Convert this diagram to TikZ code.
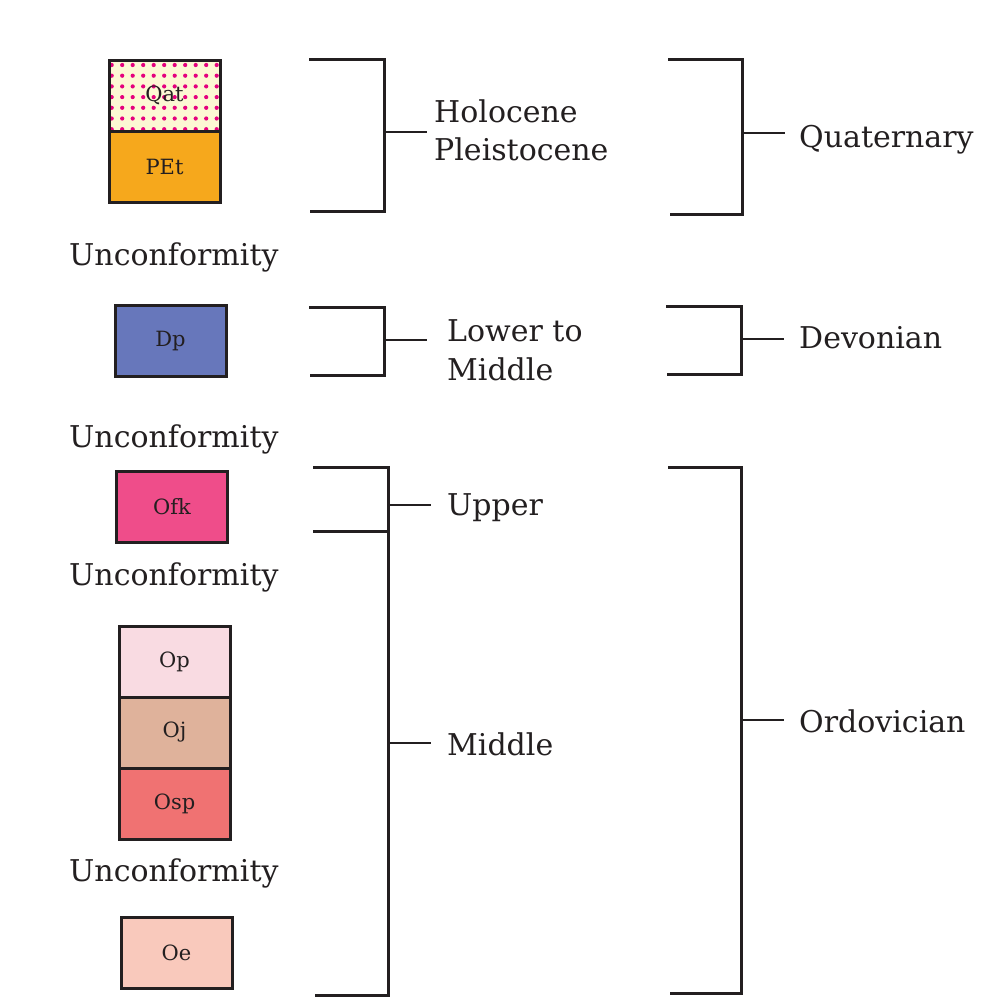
\documentclass[tikz,border=0pt]{standalone}
\usepackage{fontspec}
\setmainfont{DejaVu Serif}
\definecolor{linec}{HTML}{231F20}
\definecolor{qatfill}{HTML}{FCF8D3}
\definecolor{dotc}{HTML}{E5007D}
\definecolor{petfill}{HTML}{F6A81C}
\definecolor{dpfill}{HTML}{6777BB}
\definecolor{ofkfill}{HTML}{EF4D8A}
\definecolor{opfill}{HTML}{F9DBE2}
\definecolor{ojfill}{HTML}{DFB29B}
\definecolor{ospfill}{HTML}{F07272}
\definecolor{oefill}{HTML}{F9C9BC}
\tikzset{
  layerbox/.style={draw=linec, line width=3pt, minimum width=111pt, minimum height=71pt,
    inner sep=0pt, outer sep=0pt, text=linec, font=\fontsize{21}{25}\selectfont},
  brk/.style={draw=linec, line width=3pt},
  tick/.style={draw=linec, line width=2.6pt},
  lbl/.style={anchor=base west, inner sep=0pt, text=linec, font=\fontsize{30}{36}\selectfont}
}
\begin{document}
\begin{tikzpicture}[x=1pt,y=-1pt]
\useasboundingbox (0,0) rectangle (985,1007);
% layer boxes
\node[layerbox, fill=qatfill] (qat) at (164.5,95.5) {};
\begin{scope}
  \clip (qat.south west) rectangle (qat.north east);
  \foreach \i in {0,...,10}
    \foreach \j in {0,...,6}
      \fill[dotc] (111.7+\i*10.5, 65+\j*10.7) circle (2.1);
\end{scope}
\draw[draw=linec, line width=3pt] (qat.south west) rectangle (qat.north east);
\node[text=linec, font=\fontsize{21}{25}\selectfont, inner sep=0pt] (qatl) at (qat.center) {Qat};
\node[layerbox, fill=petfill] (pet) at (164.5,166.5) {PEt};
\node[layerbox, fill=dpfill] (dp) at (170.5,341) {Dp};
\node[layerbox, fill=ofkfill] (ofk) at (172,506.5) {Ofk};
\node[layerbox, fill=opfill] (op) at (174.5,661.5) {Op};
\node[layerbox, fill=ojfill] (oj) at (174.5,732.5) {Oj};
\node[layerbox, fill=ospfill] (osp) at (174.5,803.5) {Osp};
\node[layerbox, fill=oefill] (oe) at (176.5,952.5) {Oe};
% unconformity labels
\node[lbl] (unc1) at (69,265) {Unconformity};
\node[lbl] (unc2) at (69,447) {Unconformity};
\node[lbl] (unc3) at (69,585) {Unconformity};
\node[lbl] (unc4) at (69,881) {Unconformity};
% epoch labels
\node[lbl] (holo) at (434,122) {Holocene};
\node[lbl] (pleis) at (434,160) {Pleistocene};
\node[lbl] (lower) at (447,341) {Lower to};
\node[lbl] (midd) at (447,380) {Middle};
\node[lbl] (upper) at (447,515) {Upper};
\node[lbl] (middle) at (447,755) {Middle};
% period labels
\node[lbl] (quat) at (799,147) {Quaternary};
\node[lbl] (dev) at (799,348) {Devonian};
\node[lbl] (ordo) at (799,732) {Ordovician};
% tick end coordinates
\coordinate (t1a) at (384,132); \coordinate (t1b) at (427,132);
\coordinate (t2a) at (742,133); \coordinate (t2b) at (785,133);
\coordinate (t3a) at (384,340); \coordinate (t3b) at (427,340);
\coordinate (t4a) at (741,339); \coordinate (t4b) at (784,339);
\coordinate (t5a) at (388,505); \coordinate (t5b) at (431,505);
\coordinate (t6a) at (388,743); \coordinate (t6b) at (431,743);
\coordinate (t7a) at (741,720); \coordinate (t7b) at (784,720);
% brackets
\draw[brk] (309,59) -- (384,59) -- (384,211) -- (310,211);
\draw[tick] (t1a) -- (t1b);
\draw[brk] (668,59) -- (742,59) -- (742,214) -- (670,214);
\draw[tick] (t2a) -- (t2b);
\draw[brk] (309,307) -- (384,307) -- (384,375) -- (310,375);
\draw[tick] (t3a) -- (t3b);
\draw[brk] (666,306) -- (741,306) -- (741,374) -- (667,374);
\draw[tick] (t4a) -- (t4b);
\draw[brk] (313,467) -- (388,467) -- (388,995) -- (315,995);
\draw[brk] (313,531) -- (388,531);
\draw[tick] (t5a) -- (t5b);
\draw[tick] (t6a) -- (t6b);
\draw[brk] (668,467) -- (741,467) -- (741,993) -- (670,993);
\draw[tick] (t7a) -- (t7b);
\end{tikzpicture}
\end{document}
